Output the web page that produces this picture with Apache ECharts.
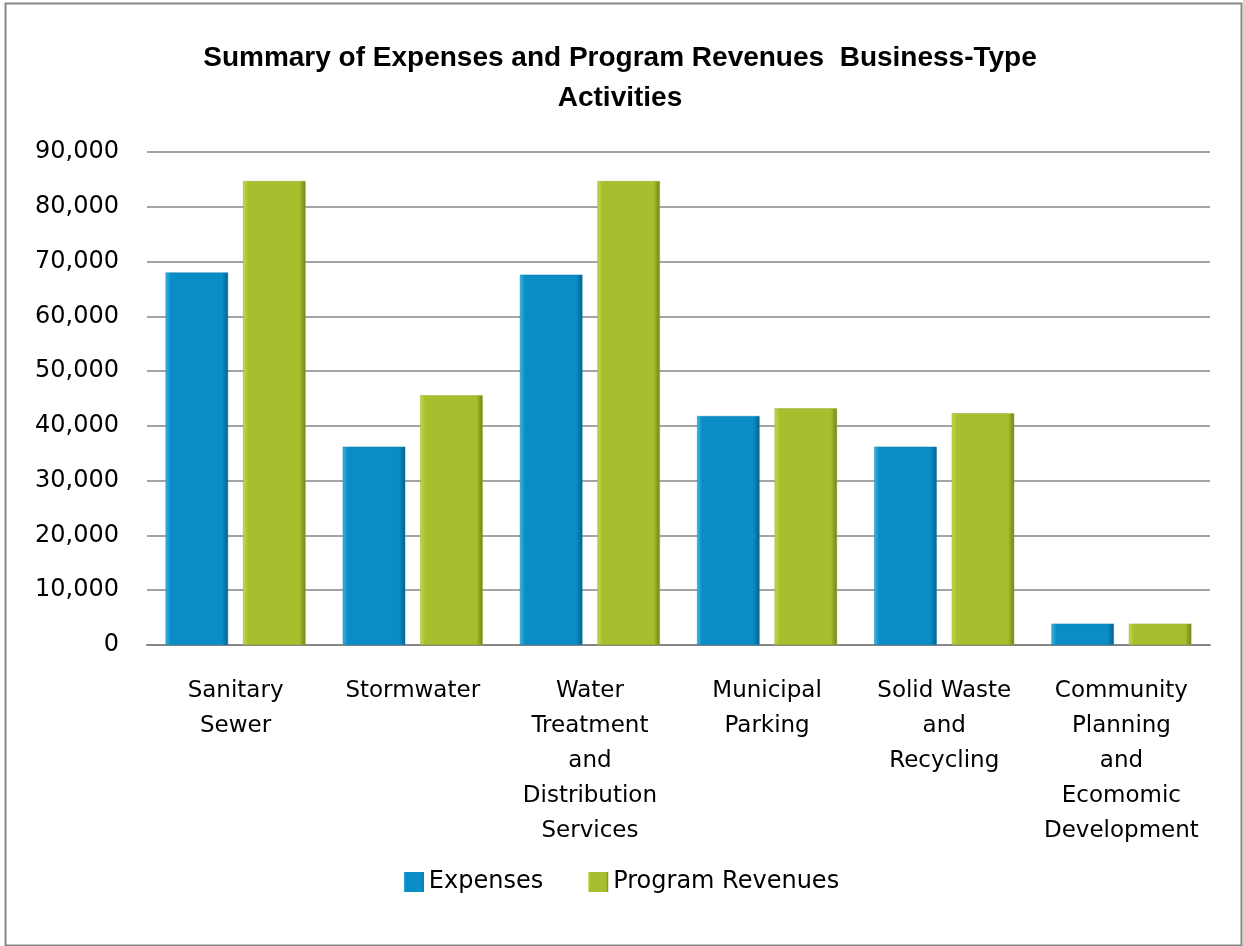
<!DOCTYPE html>
<html><head><meta charset="utf-8">
<script src="https://cdn.jsdelivr.net/npm/echarts@6/dist/echarts.min.js"></script>
<style>html,body{margin:0;padding:0;background:#fff}#c{width:1243px;height:946px}</style>
</head><body><div id="c"></div>
<script>
const categories = ["Sanitary\nSewer","Stormwater","Water\nTreatment\nand\nDistribution\nServices","Municipal\nParking","Solid Waste\nand\nRecycling","Community\nPlanning\nand\nEcomomic\nDevelopment"];
const expenses = [68000, 36200, 67600, 41800, 36200, 3900];
const revenues = [84700, 45600, 84700, 43200, 42300, 3900];
const seriesNames = ["Expenses","Program Revenues"];

const font = "DejaVu Sans";
function grad(light, mid, dark){
  return new echarts.graphic.LinearGradient(0,0,1,0,[
    {offset:0,color:light},{offset:0.08,color:mid},{offset:0.9,color:mid},{offset:1,color:dark}]);
}
const chart = echarts.init(document.getElementById('c'));
chart.setOption({
  animation:false,
  title:{text:"Summary of Expenses and Program Revenues  Business-Type\nActivities",left:615,textAlign:'center',top:33,
    textStyle:{fontFamily:"Liberation Sans Narrow, Liberation Sans",fontWeight:'bold',fontSize:28,lineHeight:40,color:'#000'}},
  legend:{bottom:47,left:'center',itemWidth:20,itemHeight:20,itemGap:45,itemStyle:{borderWidth:0},icon:'rect',
    textStyle:{fontFamily:font,fontSize:24,color:'#000'},data:seriesNames},
  grid:{left:147,right:33,top:152,bottom:301},
  xAxis:{type:'category',data:categories,
    axisLine:{lineStyle:{color:'#868686',width:2}},axisTick:{show:false},
    axisLabel:{fontFamily:font,fontSize:23,color:'#000',lineHeight:35,margin:29,interval:0}},
  yAxis:{type:'value',min:0,max:90000,interval:10000,
    axisLine:{show:false},axisTick:{show:false},
    splitLine:{lineStyle:{color:'#868686',width:1.5}},
    axisLabel:{fontFamily:font,fontSize:24,color:'#000',margin:28,
      formatter:v=>v.toLocaleString('en-US')}},
  series:[
    {name:seriesNames[0],type:'bar',data:expenses,barGap:'24%',barCategoryGap:'21%',
      itemStyle:{color:grad('#3cb6e6','#0a8cc5','#05618a'),borderColor:'#0a7fb3',borderWidth:0.5}},
    {name:seriesNames[1],type:'bar',data:revenues,
      itemStyle:{color:grad('#c8d94c','#a9be2e','#72811a'),borderColor:'#99ac28',borderWidth:0.5}}
  ],
  graphic:[{type:'rect',left:3,top:1,shape:{width:1236,height:942},
    style:{fill:'none',stroke:'#878787',lineWidth:2},silent:true}]
});
</script></body></html>
